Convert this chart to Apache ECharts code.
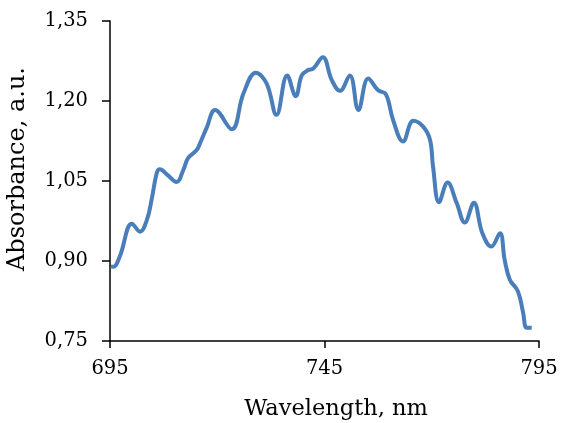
<!DOCTYPE html>
<html>
<head>
<meta charset="utf-8">
<script src="https://cdn.jsdelivr.net/npm/echarts@6/dist/echarts.min.js"></script>
<style>
  html, body { margin: 0; padding: 0; background: #fff; }
  #chart { width: 561px; height: 423px; }
</style>
</head>
<body>
<div id="chart"></div>
<script>
// wavelength (nm) and absorbance (a.u.)
const wavelength = [
  695.2, 695.8, 697.3, 700.1, 702.0, 703.6, 704.7, 705.9, 706.6, 708.2,
  710.5, 712.1, 713.2, 715.2, 716.0, 717.5, 719.5, 723.4, 726.1, 729.0,
  731.5, 733.8, 736.3, 738.3, 739.7, 741.2, 742.4, 744.6, 746.7, 748.6,
  750.9, 752.9, 755.2, 757.5, 759.3, 761.0, 763.3, 765.7, 768.0, 769.6,
  770.3, 771.7, 773.7, 775.8, 777.7, 779.8, 781.8, 783.9, 785.9, 787.0,
  788.2, 790.1, 791.3, 792.1, 793.3
];
const absorbance = [
  0.890, 0.889, 0.909, 0.970, 0.955, 0.977, 1.015, 1.065, 1.072, 1.063,
  1.048, 1.071, 1.093, 1.108, 1.121, 1.149, 1.183, 1.147, 1.214, 1.253,
  1.233, 1.174, 1.248, 1.209, 1.248, 1.258, 1.261, 1.282, 1.239, 1.219,
  1.248, 1.183, 1.242, 1.220, 1.213, 1.164, 1.124, 1.163, 1.152, 1.127,
  1.077, 1.010, 1.047, 1.009, 0.972, 1.009, 0.952, 0.927, 0.952, 0.902,
  0.865, 0.843, 0.803, 0.775, 0.775
];
const xTicks = [695, 745, 795];
const yTicks = [0.75, 0.90, 1.05, 1.20, 1.35];

const font = "DejaVu Serif";
const chart = echarts.init(document.getElementById("chart"));

chart.setOption({
  animation: false,
  backgroundColor: "#fff",
  grid: { left: 110, right: 22, top: 21, bottom: 82, outerBoundsMode: "none", containLabel: false },
  xAxis: {
    type: "value",
    min: xTicks[0],
    max: xTicks[xTicks.length - 1],
    interval: xTicks[1] - xTicks[0],
    name: "Wavelength, nm",
    nameLocation: "middle",
    nameGap: 57,
    nameTextStyle: { color: "#000", fontFamily: font, fontSize: 22.5, padding: [0, 0, 0, 23] },
    axisLine: { lineStyle: { color: "#000", width: 1.5 } },
    axisTick: { inside: false, length: 7, lineStyle: { color: "#000", width: 1.5 } },
    axisLabel: { color: "#000", fontFamily: font, fontSize: 19.5, margin: 18 },
    splitLine: { show: false }
  },
  yAxis: {
    type: "value",
    min: yTicks[0],
    max: yTicks[yTicks.length - 1],
    interval: 0.15,
    name: "Absorbance, a.u.",
    nameLocation: "middle",
    nameGap: 80,
    nameTextStyle: { color: "#000", fontFamily: font, fontSize: 24, padding: [0, 0, 0, 24] },
    axisLine: { show: true, lineStyle: { color: "#000", width: 1.5 } },
    axisTick: { show: true, length: 8, lineStyle: { color: "#000", width: 1.5 } },
    axisLabel: {
      color: "#000",
      fontFamily: font,
      fontSize: 19.5,
      margin: 22,
      formatter: (v) => v.toFixed(2).replace(".", ",")
    },
    splitLine: { show: false }
  },
  series: [
    {
      type: "line",
      data: wavelength.map((w, i) => [w, absorbance[i]]),
      smooth: 0.4,
      symbol: "none",
      lineStyle: { color: "#4a7ebb", width: 4 }
    }
  ]
});
</script>
</body>
</html>
